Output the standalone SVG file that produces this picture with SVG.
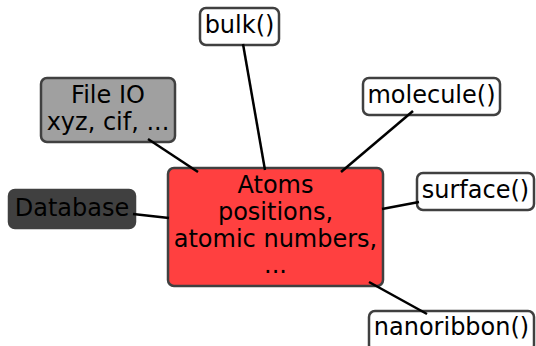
<svg xmlns="http://www.w3.org/2000/svg" width="536" height="346" viewBox="0 0 536 346">
<style>
.box{stroke:#404040;stroke-width:2.5}
.w{fill:#ffffff}
.t{font-family:"DejaVu Sans",sans-serif;font-size:24px;fill:#000;text-anchor:middle}
.e{stroke:#000;stroke-width:2.5;fill:none}
</style>
<rect width="536" height="346" fill="#fff"/>
<g id="atoms">
<rect class="box" x="168" y="168" width="215" height="118" rx="6" fill="#ff4040"/>
<text class="t" x="275.5" y="193">Atoms</text>
<text class="t" x="275.5" y="220">positions,</text>
<text class="t" x="275.5" y="247">atomic numbers,</text>
<text class="t" x="275.5" y="273">...</text>
</g>
<g id="bulk">
<rect class="box w" x="200" y="8" width="79" height="37" rx="6"/>
<text class="t" x="239.5" y="33">bulk()</text>
</g>
<g id="fileio">
<rect class="box" x="41" y="78" width="134" height="64" rx="6" fill="#a0a0a0"/>
<text class="t" x="108" y="103">File IO</text>
<text class="t" x="108" y="130">xyz, cif, ...</text>
</g>
<g id="database">
<rect class="box" x="9" y="190" width="126" height="38" rx="6" fill="#404040"/>
<text class="t" x="72" y="216">Database</text>
</g>
<g id="molecule">
<rect class="box w" x="363" y="78" width="137" height="37" rx="6"/>
<text class="t" x="431.5" y="103">molecule()</text>
</g>
<g id="surface">
<rect class="box w" x="417" y="173" width="117" height="37" rx="6"/>
<text class="t" x="475.5" y="198">surface()</text>
</g>
<g id="nanoribbon">
<rect class="box w" x="369" y="311" width="165" height="40" rx="6"/>
<text class="t" x="451.5" y="335">nanoribbon()</text>
</g>
<g id="connectors">
<line class="e" x1="243" y1="44" x2="265" y2="170"/>
<line class="e" x1="148" y1="139" x2="198" y2="172"/>
<line class="e" x1="133" y1="214" x2="169" y2="218"/>
<line class="e" x1="413" y1="111" x2="341" y2="172"/>
<line class="e" x1="419" y1="202" x2="382" y2="209"/>
<line class="e" x1="369" y1="282" x2="427" y2="314"/>
</g>
</svg>
